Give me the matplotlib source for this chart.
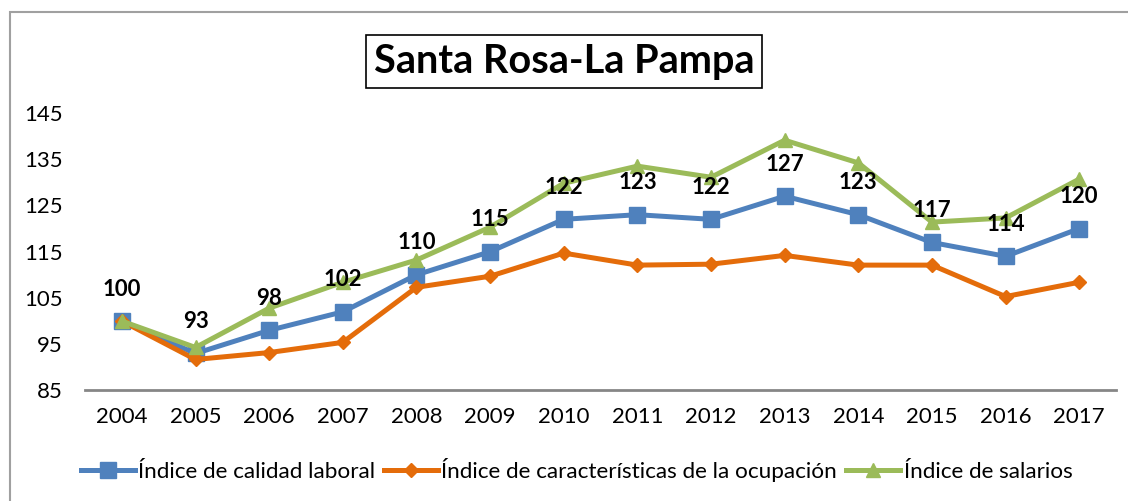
import matplotlib
matplotlib.use("Agg")
import matplotlib.pyplot as plt
from matplotlib.patches import Rectangle

plt.rcParams['font.family'] = ['Lato', 'DejaVu Sans']

# data
years = ['2004', '2005', '2006', '2007', '2008', '2009', '2010',
         '2011', '2012', '2013', '2014', '2015', '2016', '2017']
calidad = [100, 93, 98, 102, 110, 115, 122, 123, 122, 127, 123, 117, 114, 120]
ocupacion = [100, 91.7, 93.2, 95.4, 107.3, 109.7, 114.7,
             112.1, 112.3, 114.2, 112.1, 112.1, 105.3, 108.4]
salarios = [100, 94.3, 102.8, 108.4, 113.2, 120.3, 129.8,
            133.5, 131.1, 139.1, 134.2, 121.4, 122.3, 130.7]
series_names = ['Índice de calidad laboral',
                'Índice de características de la ocupación',
                'Índice de salarios']
y_ticks = [85, 95, 105, 115, 125, 135, 145]

BLUE = '#4F81BD'
ORANGE = '#E46C0A'
GREEN = '#9BBB59'

fig = plt.figure(figsize=(11.28, 5.01), dpi=100)
ax = fig.add_axes([0.0754, 0.2206, 0.914, 0.554])

x = list(range(len(years)))
ax.plot(x, calidad, color=BLUE, lw=3.6, marker='s', ms=12, label=series_names[0])
ax.plot(x, ocupacion, color=ORANGE, lw=3.6, marker='D', ms=7, label=series_names[1])
ax.plot(x, salarios, color=GREEN, lw=3.6, marker='^', ms=10, label=series_names[2])

for i, v in enumerate(calidad):
    ax.annotate(str(v), (i, v), xytext=(0, 23), textcoords='offset points',
                ha='center', va='center', fontsize=16, fontweight='bold')

ax.set_xlim(-0.5, len(years) - 0.5)
ax.set_ylim(85, 145)
ax.set_xticks(x)
ax.set_xticklabels(years)
ax.set_yticks(y_ticks)
ax.tick_params(axis='both', length=0, labelsize=16)
ax.tick_params(axis='y', pad=16)
ax.tick_params(axis='x', pad=12)
for side in ['top', 'right', 'left']:
    ax.spines[side].set_visible(False)
ax.spines['bottom'].set_color('#868686')
ax.spines['bottom'].set_linewidth(2)

fig.text(0.5, 0.877, 'Santa Rosa-La Pampa', ha='center', va='center',
         fontsize=28.5, fontweight='bold',
         bbox=dict(boxstyle='square,pad=0.2', fc='white', ec='black', lw=1.2))

fig.legend(loc='center', bbox_to_anchor=(0.511, 0.062), ncol=3, frameon=False,
           fontsize=16.2, handlelength=2.4, handletextpad=0.15, columnspacing=0.4)

fig.add_artist(Rectangle((10 / 1128, -0.1), 1.2, 1 - 12 / 501 + 0.1,
                         transform=fig.transFigure, fill=False,
                         ec='#A0A0A0', lw=1.5))

fig.savefig('out.png', dpi=100)
